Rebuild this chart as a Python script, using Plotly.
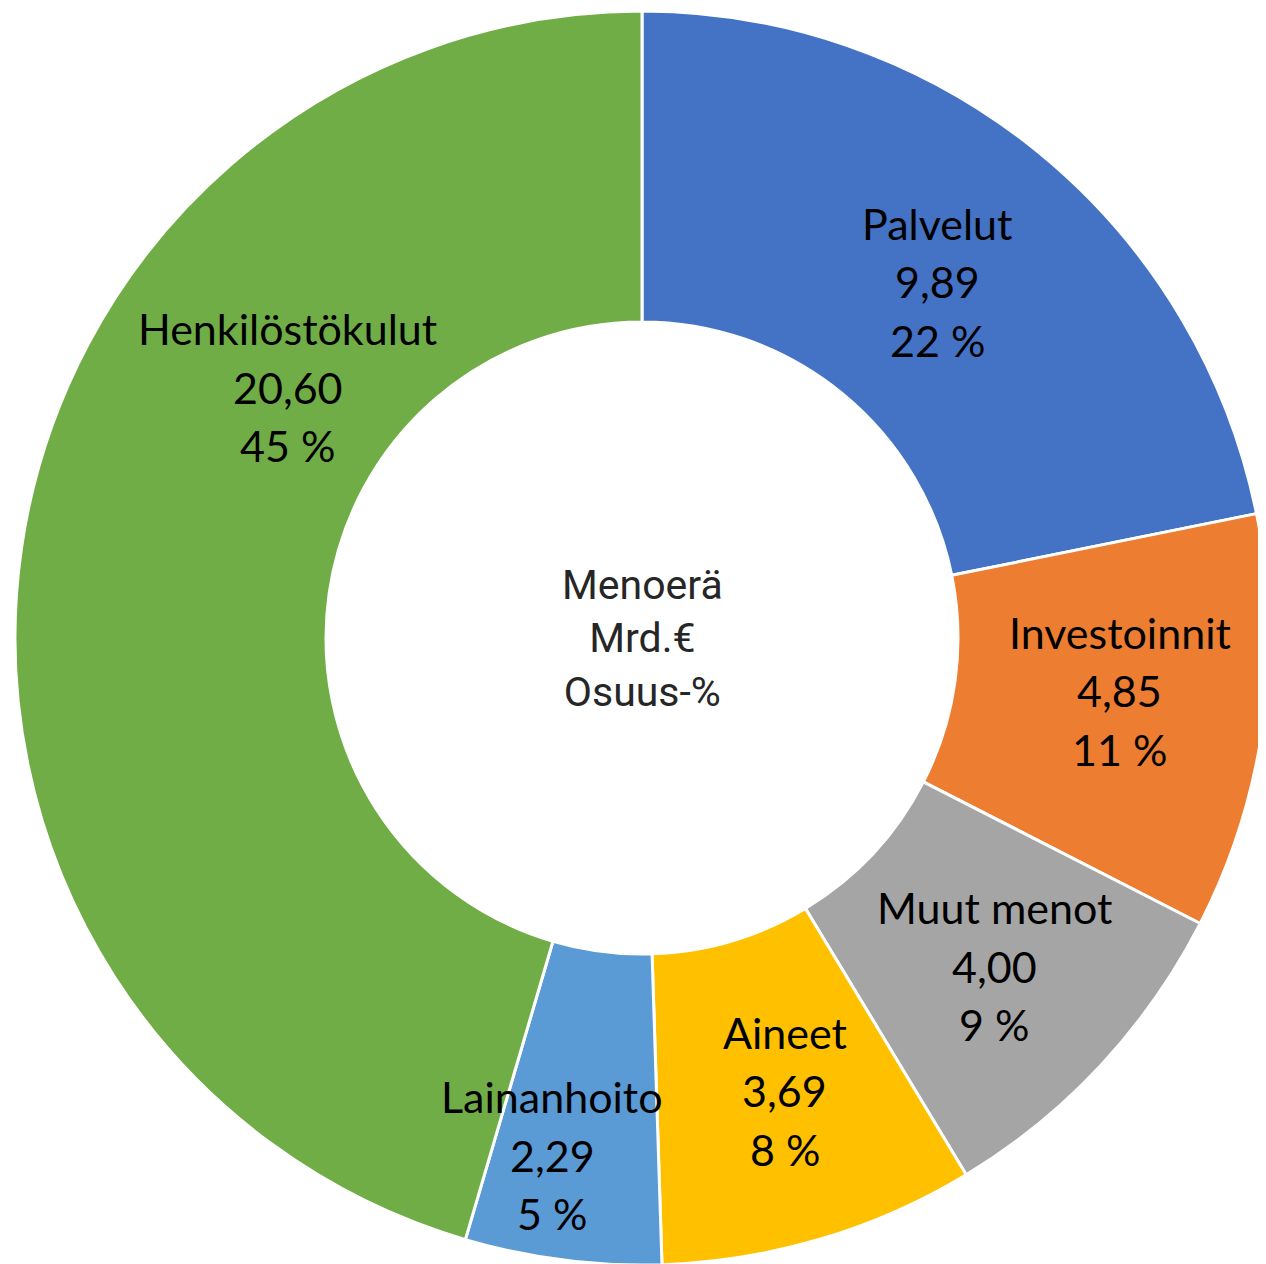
import math
import plotly.graph_objects as go

categories = ["Palvelut", "Investoinnit", "Muut menot", "Aineet", "Lainanhoito", "Henkilöstökulut"]
values = [9.89, 4.85, 4.00, 3.69, 2.29, 20.60]
colors = ["#4472C4", "#ED7D31", "#A5A5A5", "#FFC000", "#5B9BD5", "#70AD47"]
center_lines = ["Menoerä", "Mrd.€", "Osuus-%"]

W, H = 1266, 1264
ML, MR, MT, MB = 7, 5, 3, 7
PW, PH = W - ML - MR, H - MT - MB
R = min(PW, PH) / 2
CX, CY = ML + PW / 2, MT + PH / 2

fig = go.Figure(go.Pie(
    labels=categories, values=values, sort=False, direction="clockwise",
    rotation=0, hole=0.504, textinfo="none", hoverinfo="label+value+percent",
    marker=dict(colors=colors, line=dict(color="white", width=3)),
    showlegend=False,
))

total = sum(values)
# (angle offset in degrees, radius fraction) for label placement
label_adjust = {
    "Palvelut": (0.4, 0.738),
    "Investoinnit": (-1.5, 0.767),
    "Aineet": (-1.0, 0.757),
    "Henkilöstökulut": (27.1, 0.692),
    "Lainanhoito": (2.6, 0.837),
}
LFONT = dict(family="Lato, Carlito, sans-serif", size=43, color="black")
LINE = 58.5
cum = 0.0
annotations = []
for cat, v in zip(categories, values):
    mid = (cum + v / 2) / total * 360
    cum += v
    dang, rf = label_adjust.get(cat, (0.0, 0.768))
    ang = math.radians(mid + dang)
    px = CX + rf * R * math.sin(ang)
    py = CY - rf * R * math.cos(ang)
    pct = round(v / total * 100)
    lines = [cat, f"{v:.2f}".replace(".", ","), f"{pct} %"]
    for i, t in enumerate(lines):
        ly = py + (i - 1) * LINE
        annotations.append(dict(
            x=(px - ML) / PW, y=1 - (ly - MT) / PH, xref="paper", yref="paper",
            text=t, showarrow=False, font=LFONT, xanchor="center", yanchor="middle",
        ))

annotations.append(dict(
    x=(CX - ML) / PW, y=1 - (CY - MT) / PH, xref="paper", yref="paper",
    text="<br>".join(center_lines), showarrow=False,
    font=dict(family="Roboto", size=41, color="#262626"),
    xanchor="center", yanchor="middle",
))

fig.update_layout(
    width=W, height=H, margin=dict(l=ML, r=MR, t=MT, b=MB),
    paper_bgcolor="white", plot_bgcolor="white",
    annotations=annotations,
)
fig.write_html("out.html")
